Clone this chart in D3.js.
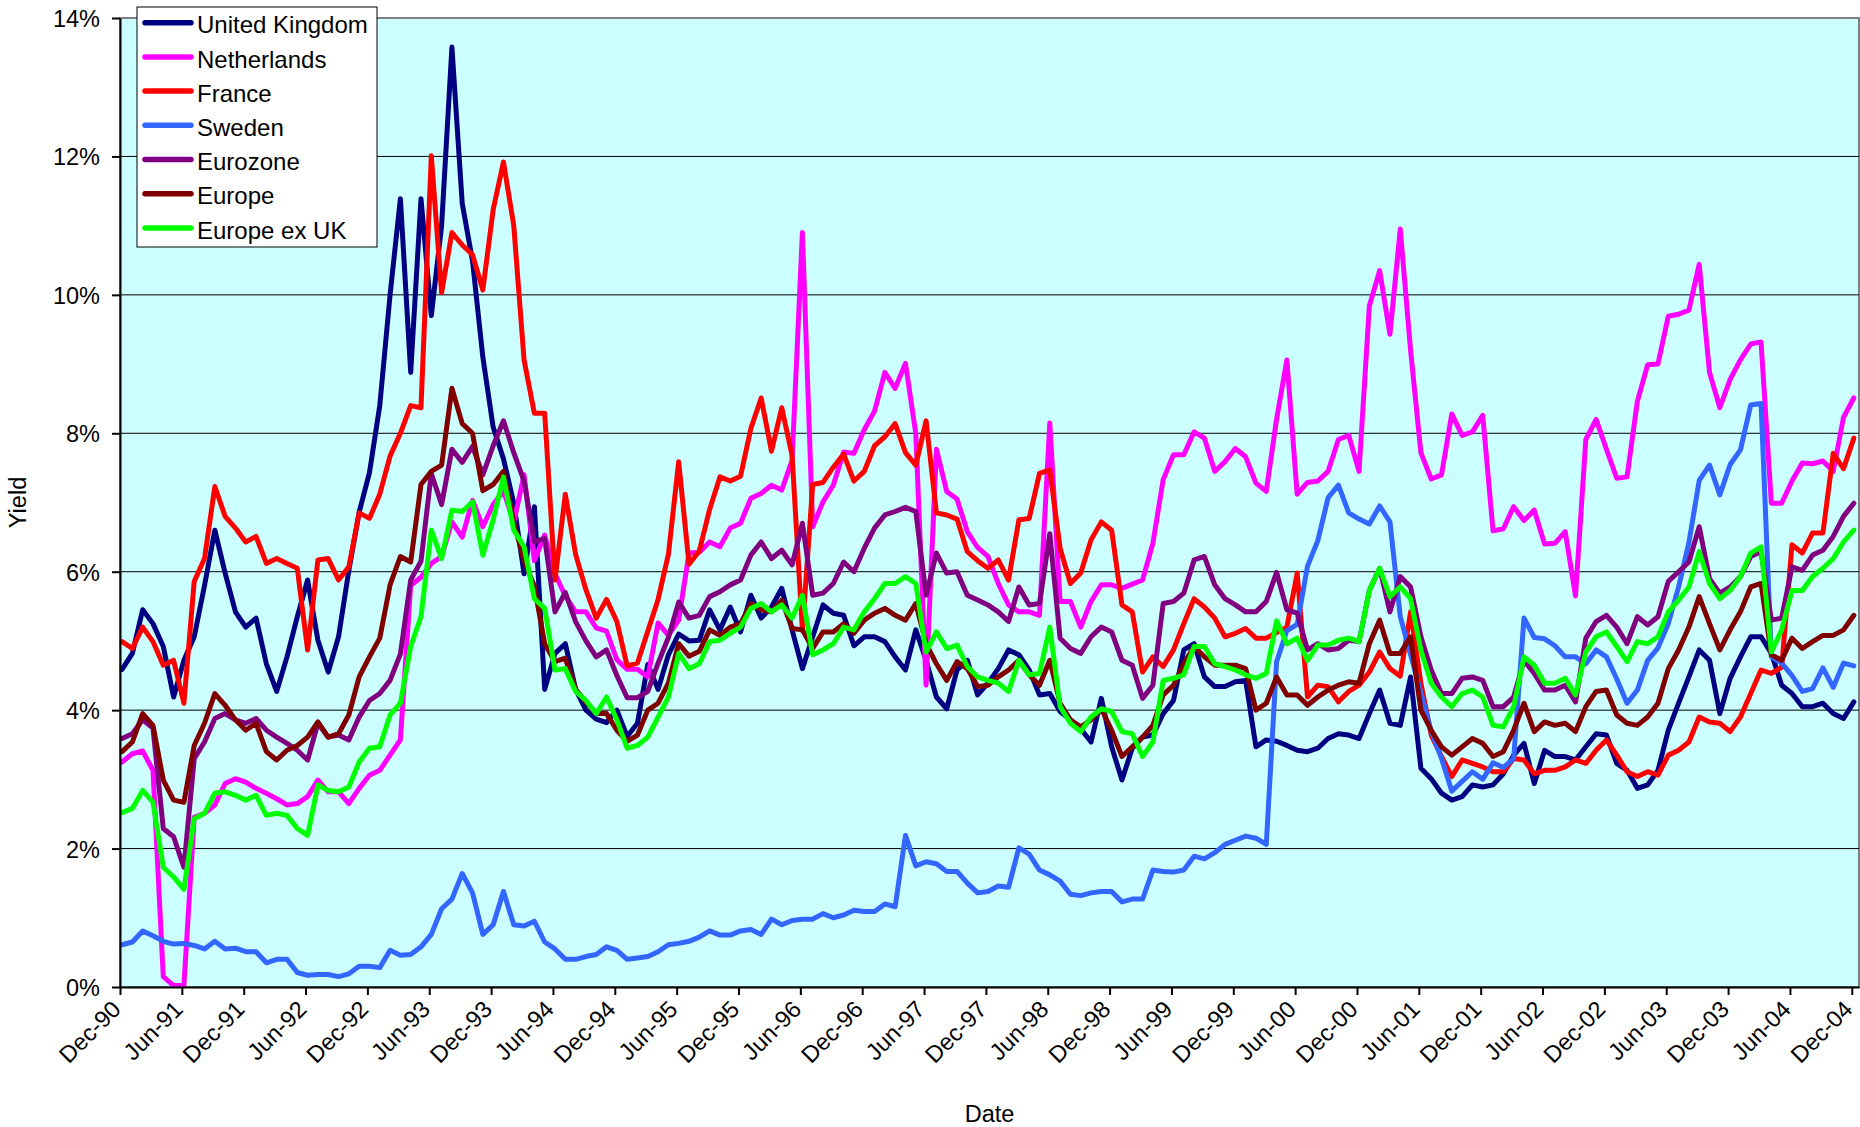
<!DOCTYPE html>
<meta charset="utf-8">
<script src="https://cdn.jsdelivr.net/npm/d3@7/dist/d3.min.js"></script>
<style>
body { margin: 0; background: #fff; }
text { font-family: "Liberation Sans", Arial, sans-serif; fill: #000; }
path.series { fill: none; stroke-width: 5px; stroke-linejoin: round; stroke-linecap: round; }
.grid line { stroke: #000; stroke-width: 1px; }
.axis path, .axis line { stroke: #000; stroke-width: 2px; }
</style>
<body>
<script>

// monthly yields (%), Dec-90 .. Dec-04
var tickLabels = ["Dec-90","Jun-91","Dec-91","Jun-92","Dec-92","Jun-93","Dec-93","Jun-94",
  "Dec-94","Jun-95","Dec-95","Jun-96","Dec-96","Jun-97","Dec-97","Jun-98","Dec-98","Jun-99",
  "Dec-99","Jun-00","Dec-00","Jun-01","Dec-01","Jun-02","Dec-02","Jun-03","Dec-03","Jun-04","Dec-04"];

var unitedKingdom = [4.59,4.82,5.45,5.25,4.92,4.19,4.72,5.06,5.80,6.60,
  5.98,5.42,5.20,5.33,4.67,4.27,4.77,5.35,5.88,5.01,
  4.55,5.06,6.02,6.86,7.43,8.40,10.0,11.39,8.88,11.39,
  9.70,11.0,13.58,11.32,10.49,9.10,8.09,7.63,6.99,5.97,
  6.94,4.30,4.82,4.96,4.30,4.00,3.87,3.82,4.00,3.62,
  3.81,4.66,4.30,4.80,5.10,5.00,5.01,5.45,5.16,5.49,
  5.13,5.66,5.33,5.49,5.76,5.16,4.60,5.06,5.52,5.40,
  5.37,4.93,5.06,5.06,4.99,4.77,4.58,5.16,4.72,4.19,
  4.02,4.58,4.72,4.22,4.39,4.60,4.87,4.80,4.58,4.22,
  4.24,3.98,3.86,3.73,3.54,4.17,3.47,2.99,3.45,3.61,
  3.64,3.95,4.14,4.87,4.96,4.48,4.34,4.34,4.41,4.43,
  3.47,3.57,3.55,3.49,3.42,3.40,3.45,3.59,3.66,3.64,
  3.59,3.95,4.29,3.81,3.78,4.48,3.16,3.01,2.80,2.70,
  2.75,2.92,2.89,2.92,3.08,3.35,3.52,2.94,3.42,3.33,
  3.33,3.28,3.47,3.66,3.64,3.23,3.13,2.87,2.92,3.13,
  3.71,4.10,4.48,4.87,4.72,3.95,4.46,4.77,5.06,5.06,
  4.82,4.36,4.24,4.05,4.05,4.10,3.95,3.88,4.12];

var netherlands = [3.25,3.37,3.41,3.13,0.15,0.02,0.02,2.45,2.51,2.63,
  2.94,3.01,2.96,2.87,2.80,2.72,2.63,2.65,2.75,2.99,
  2.82,2.82,2.65,2.87,3.06,3.13,3.35,3.57,5.80,5.92,
  6.12,6.22,6.72,6.50,7.03,6.65,6.97,7.17,6.71,7.40,
  6.16,6.53,5.97,5.65,5.42,5.42,5.19,5.14,4.73,4.59,
  4.59,4.48,5.26,5.08,5.30,6.27,6.28,6.43,6.36,6.63,
  6.70,7.06,7.13,7.25,7.18,7.61,10.9,6.65,7.01,7.25,
  7.73,7.71,8.05,8.32,8.88,8.65,9.01,8.00,4.36,7.77,
  7.16,7.05,6.58,6.35,6.22,5.83,5.52,5.42,5.42,5.37,
  8.15,5.57,5.57,5.20,5.57,5.81,5.81,5.76,5.82,5.88,
  6.41,7.33,7.69,7.69,8.02,7.93,7.45,7.59,7.78,7.66,
  7.28,7.16,8.20,9.06,7.12,7.29,7.31,7.45,7.91,7.97,
  7.45,9.84,10.35,9.43,10.95,9.20,7.72,7.34,7.40,8.28,
  7.97,8.02,8.26,6.59,6.62,6.94,6.74,6.89,6.40,6.41,
  6.58,5.65,7.91,8.20,7.77,7.35,7.37,8.46,8.99,9.00,
  9.69,9.72,9.78,10.44,8.88,8.37,8.78,9.06,9.29,9.32,
  6.99,6.99,7.31,7.57,7.56,7.60,7.45,8.23,8.51];

var france = [4.99,4.89,5.20,4.99,4.65,4.72,4.10,5.86,6.19,7.23,
  6.80,6.63,6.43,6.51,6.12,6.19,6.12,6.05,4.87,6.17,
  6.19,5.88,6.07,6.85,6.77,7.12,7.67,8.00,8.40,8.37,
  12.01,10.03,10.90,10.72,10.58,10.07,11.23,11.92,11.00,9.06,
  8.29,8.29,5.88,7.12,6.25,5.74,5.33,5.60,5.28,4.64,
  4.68,5.14,5.60,6.25,7.59,6.11,6.30,6.90,7.37,7.31,
  7.38,8.07,8.51,7.74,8.37,7.68,5.15,7.26,7.29,7.51,
  7.70,7.31,7.45,7.82,7.95,8.14,7.72,7.54,8.18,6.85,
  6.82,6.76,6.29,6.16,6.05,6.17,5.88,6.75,6.77,7.42,
  7.47,6.34,5.83,5.98,6.46,6.72,6.60,5.52,5.42,4.55,
  4.77,4.63,4.87,5.25,5.61,5.49,5.33,5.06,5.11,5.18,
  5.04,5.04,5.12,5.20,5.98,4.19,4.36,4.34,4.12,4.27,
  4.36,4.55,4.84,4.60,4.49,5.42,4.39,3.64,3.33,3.04,
  3.28,3.23,3.18,3.11,3.11,3.30,3.28,3.08,3.13,3.13,
  3.18,3.28,3.23,3.42,3.57,3.35,3.11,3.04,3.11,3.06,
  3.35,3.42,3.54,3.90,3.83,3.81,3.69,3.90,4.24,4.58,
  4.53,4.62,6.39,6.27,6.56,6.56,7.71,7.49,7.93];

var sweden = [0.61,0.65,0.81,0.74,0.66,0.62,0.63,0.60,0.55,0.66,
  0.55,0.56,0.51,0.51,0.35,0.40,0.40,0.21,0.17,0.18,
  0.18,0.15,0.19,0.30,0.30,0.28,0.53,0.46,0.47,0.58,
  0.76,1.13,1.27,1.64,1.36,0.76,0.90,1.38,0.90,0.88,
  0.95,0.65,0.55,0.40,0.40,0.44,0.47,0.58,0.53,0.40,
  0.42,0.44,0.51,0.61,0.63,0.66,0.72,0.81,0.75,0.75,
  0.81,0.83,0.76,0.98,0.90,0.96,0.98,0.98,1.06,1.00,
  1.04,1.11,1.09,1.09,1.20,1.16,2.19,1.75,1.81,1.78,
  1.67,1.67,1.50,1.36,1.38,1.46,1.44,2.01,1.92,1.69,
  1.62,1.53,1.34,1.32,1.36,1.38,1.38,1.23,1.27,1.27,
  1.69,1.67,1.66,1.69,1.89,1.85,1.94,2.06,2.12,2.18,
  2.15,2.06,4.70,5.15,5.24,6.08,6.45,7.07,7.25,6.85,
  6.76,6.69,6.95,6.72,5.35,4.80,4.25,3.70,3.30,2.83,
  2.97,3.11,3.00,3.24,3.17,3.30,5.33,5.05,5.03,4.93,
  4.77,4.77,4.67,4.87,4.77,4.45,4.10,4.29,4.72,4.90,
  5.25,5.78,6.42,7.32,7.54,7.11,7.55,7.76,8.41,8.43,
  4.77,4.68,4.50,4.27,4.31,4.61,4.33,4.68,4.64];

var eurozone = [3.59,3.66,3.86,3.74,2.29,2.17,1.73,3.30,3.54,3.88,
  3.95,3.86,3.81,3.88,3.71,3.61,3.52,3.42,3.28,3.81,
  3.61,3.64,3.57,3.90,4.14,4.24,4.43,4.81,5.88,6.15,
  7.42,6.97,7.77,7.58,7.81,7.40,7.82,8.18,7.72,7.31,
  6.43,6.48,5.42,5.70,5.28,5.00,4.77,4.87,4.50,4.18,
  4.18,4.27,4.68,5.05,5.56,5.33,5.37,5.64,5.71,5.81,
  5.88,6.24,6.43,6.19,6.31,6.10,6.70,5.66,5.69,5.83,
  6.14,6.00,6.34,6.63,6.82,6.87,6.93,6.87,5.66,6.27,
  5.98,6.00,5.66,5.59,5.52,5.42,5.28,5.78,5.52,5.54,
  6.55,5.04,4.89,4.82,5.06,5.20,5.13,4.72,4.65,4.17,
  4.36,5.54,5.57,5.69,6.17,6.22,5.81,5.61,5.52,5.42,
  5.42,5.57,5.99,5.45,5.40,4.87,4.96,4.87,4.89,5.01,
  4.99,5.73,6.05,5.42,5.93,5.78,5.06,4.58,4.24,4.24,
  4.46,4.48,4.43,4.05,4.05,4.19,4.72,4.53,4.29,4.29,
  4.36,4.12,5.04,5.28,5.37,5.20,4.96,5.35,5.23,5.35,
  5.86,6.00,6.14,6.65,5.90,5.69,5.78,5.93,6.22,6.29,
  5.30,5.33,6.07,6.02,6.24,6.31,6.51,6.80,6.99];

var europe = [3.40,3.54,3.95,3.78,2.99,2.70,2.67,3.49,3.81,4.24,
  4.07,3.86,3.71,3.81,3.40,3.28,3.42,3.49,3.61,3.83,
  3.61,3.66,3.93,4.48,4.77,5.04,5.81,6.22,6.14,7.26,
  7.45,7.54,8.65,8.14,8.00,7.17,7.26,7.45,6.71,6.16,
  5.79,4.96,4.70,4.75,4.30,4.12,3.95,3.95,3.71,3.55,
  3.64,4.00,4.10,4.39,4.96,4.78,4.85,5.16,5.08,5.20,
  5.25,5.54,5.45,5.42,5.59,5.18,5.16,4.89,5.13,5.13,
  5.25,5.11,5.30,5.40,5.47,5.37,5.30,5.54,4.96,4.67,
  4.43,4.70,4.60,4.34,4.36,4.48,4.58,4.72,4.51,4.36,
  4.72,4.10,3.86,3.76,3.86,4.02,3.71,3.33,3.47,3.61,
  3.78,4.22,4.36,4.67,4.92,4.77,4.65,4.65,4.65,4.60,
  4.00,4.10,4.48,4.22,4.22,4.07,4.19,4.29,4.36,4.41,
  4.39,4.96,5.30,4.82,4.82,5.06,4.00,3.71,3.47,3.35,
  3.47,3.59,3.52,3.33,3.40,3.71,4.10,3.69,3.83,3.78,
  3.81,3.69,4.05,4.27,4.29,3.93,3.81,3.78,3.90,4.10,
  4.60,4.87,5.20,5.64,5.25,4.87,5.16,5.42,5.78,5.83,
  4.80,4.72,5.04,4.89,4.99,5.08,5.08,5.16,5.37];

var europeExUk = [2.52,2.58,2.84,2.67,1.73,1.59,1.41,2.43,2.51,2.80,
  2.82,2.77,2.70,2.77,2.48,2.51,2.48,2.29,2.19,2.92,
  2.84,2.82,2.89,3.25,3.45,3.47,3.93,4.10,4.92,5.35,
  6.60,6.19,6.89,6.87,7.01,6.24,6.75,7.37,6.60,6.36,
  5.61,5.47,4.58,4.60,4.27,4.14,3.95,4.19,3.86,3.45,
  3.49,3.61,3.90,4.19,4.82,4.60,4.67,4.99,5.01,5.11,
  5.20,5.47,5.54,5.42,5.52,5.33,5.66,4.80,4.87,4.96,
  5.20,5.16,5.42,5.61,5.83,5.83,5.93,5.83,4.84,5.13,
  4.89,4.94,4.63,4.48,4.43,4.39,4.27,4.72,4.51,4.53,
  5.20,4.05,3.81,3.69,3.90,4.02,3.98,3.69,3.66,3.33,
  3.54,4.43,4.46,4.51,4.92,4.92,4.67,4.63,4.58,4.51,
  4.46,4.53,5.29,4.96,5.04,4.72,4.94,4.94,5.01,5.04,
  4.99,5.73,6.05,5.64,5.78,5.61,4.87,4.39,4.19,4.05,
  4.24,4.29,4.19,3.78,3.76,4.05,4.77,4.65,4.39,4.39,
  4.46,4.22,4.84,5.06,5.13,4.92,4.70,4.99,4.96,5.06,
  5.42,5.59,5.78,6.29,5.83,5.61,5.73,5.93,6.27,6.36,
  4.84,5.16,5.73,5.73,5.93,6.05,6.19,6.43,6.60];

var seriesNames = ["United Kingdom", "Netherlands", "France", "Sweden", "Eurozone", "Europe", "Europe ex UK"];
var seriesColors = ["#000080", "#ff00ff", "#ff0000", "#3366ff", "#800080", "#800000", "#00ff00"];
var seriesValues = [unitedKingdom, netherlands, france, sweden, eurozone, europe, europeExUk];

var width = 1860,
    height = 1127;
var plotLeft = 120, plotRight = 1859, plotTop = 18, plotBottom = 987;

var svg = d3.select("body").append("svg")
    .attr("width", width)
    .attr("height", height);

// month index -> px (tick marks sit on the month, points a little to the right)
var x = d3.scaleLinear().domain([0, 168.7]).range([plotLeft, plotRight]);
var y = d3.scaleLinear().domain([0, 14]).range([plotBottom, plotTop]);

svg.append("rect")
    .attr("x", plotLeft).attr("y", plotTop)
    .attr("width", plotRight - plotLeft).attr("height", plotBottom - plotTop)
    .attr("fill", "#ccffff")
    .attr("stroke", "#808080")
    .attr("stroke-width", 2);

// horizontal gridlines
svg.append("g").attr("class", "grid")
  .selectAll("line")
  .data(d3.range(2, 14, 2))
  .enter().append("line")
    .attr("x1", plotLeft).attr("x2", plotRight)
    .attr("y1", function(d) { return y(d); })
    .attr("y2", function(d) { return y(d); });

// the lines
var line = d3.line()
    .x(function(d, i) { return x(i + 0.2); })
    .y(function(d) { return y(d); });

svg.append("g")
  .selectAll("path")
  .data(seriesValues)
  .enter().append("path")
    .attr("class", "series")
    .attr("stroke", function(d, i) { return seriesColors[i]; })
    .attr("d", line);

// axes
var yAxis = svg.append("g").attr("class", "axis")
    .attr("transform", "translate(" + plotLeft + ",0)")
    .call(d3.axisLeft(y)
        .tickValues(d3.range(0, 15, 2))
        .tickFormat(function(d) { return d + "%"; })
        .tickSize(8).tickSizeOuter(0).tickPadding(12));
yAxis.selectAll("text")
    .style("font-size", "23.5px")
    .attr("dy", "0.36em");

var xAxis = svg.append("g").attr("class", "axis")
    .attr("transform", "translate(0," + plotBottom + ")")
    .call(d3.axisBottom(x)
        .tickValues(d3.range(0, 169, 6))
        .tickFormat(function(d, i) { return tickLabels[i]; })
        .tickSize(8).tickSizeOuter(0));
xAxis.select(".domain").attr("stroke", "#333");
xAxis.selectAll("text")
    .style("font-size", "23.5px")
    .attr("text-anchor", "end")
    .attr("x", 0).attr("y", 0).attr("dy", "0.35em")
    .attr("transform", "translate(-4,18) rotate(-45)");

// axis titles
svg.append("text")
    .attr("x", (plotLeft + plotRight) / 2)
    .attr("y", 1122)
    .attr("text-anchor", "middle")
    .style("font-size", "23.5px")
    .text("Date");

svg.append("text")
    .attr("transform", "translate(26," + (plotTop + plotBottom) / 2 + ") rotate(-90)")
    .attr("text-anchor", "middle")
    .style("font-size", "23.5px")
    .text("Yield");

// legend
var legend = svg.append("g").attr("transform", "translate(137,7)");
legend.append("rect")
    .attr("width", 240).attr("height", 240)
    .attr("fill", "#fff")
    .attr("stroke", "#000")
    .attr("stroke-width", 1);

var item = legend.selectAll(".item")
    .data(seriesNames)
  .enter().append("g")
    .attr("class", "item")
    .attr("transform", function(d, i) { return "translate(0," + (15.7 + i * 34.2) + ")"; });

item.append("line")
    .attr("x1", 8).attr("x2", 54)
    .attr("stroke", function(d, i) { return seriesColors[i]; })
    .attr("stroke-width", 5.5)
    .attr("stroke-linecap", "round");

item.append("text")
    .attr("x", 60)
    .attr("y", 10.6)
    .style("font-size", "24px")
    .text(function(d) { return d; });

</script>
</body>
